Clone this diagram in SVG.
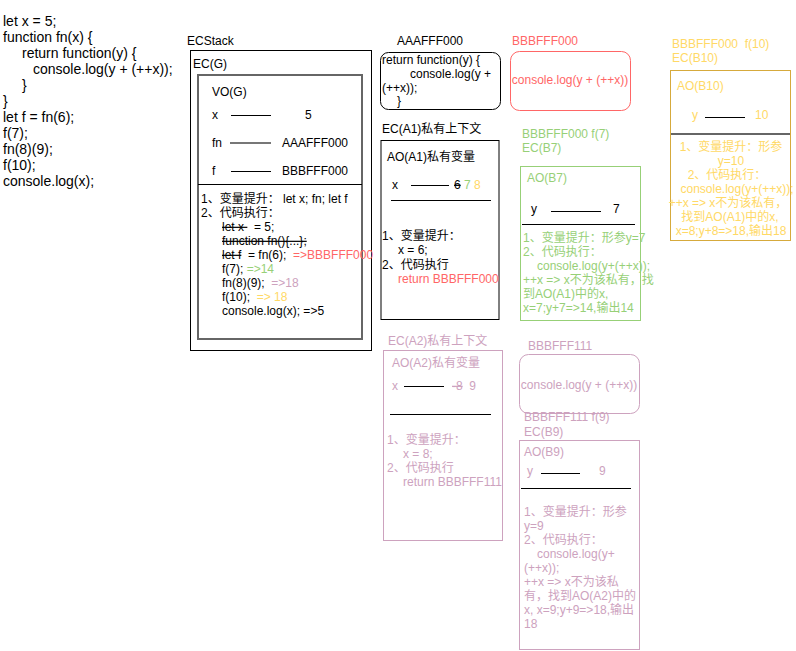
<svg xmlns="http://www.w3.org/2000/svg" width="796" height="651" viewBox="0 0 796 651" xml:space="preserve">
<style>
text{font-family:"Liberation Sans",Arial,"Noto Sans CJK SC",sans-serif;font-size:12px;fill:#000;white-space:pre}
.code{font-size:14px}
.red{fill:#FF6666}
.green{fill:#97D077}
.pink{fill:#CDA2BE}
.yel{fill:#FFD966}
.box{fill:none;stroke:#000;stroke-width:1}
.ln{stroke:#000;stroke-width:1}
.st{text-decoration:line-through}
.mid{text-anchor:middle}
</style>
<rect width="796" height="651" fill="#fff"/>
<g id="code">
<text class="code" x="3" y="26">let x = 5;</text>
<text class="code" x="3" y="42">function fn(x) {</text>
<text class="code" x="22" y="58">return function(y) {</text>
<text class="code" x="33" y="74">console.log(y + (++x));</text>
<text class="code" x="22" y="90">}</text>
<text class="code" x="3" y="106">}</text>
<text class="code" x="3" y="122">let f = fn(6);</text>
<text class="code" x="3" y="138">f(7);</text>
<text class="code" x="3" y="154">fn(8)(9);</text>
<text class="code" x="3" y="170">f(10);</text>
<text class="code" x="3" y="186">console.log(x);</text>
</g>
<g id="ecstack">
<text x="187" y="45">ECStack</text>
<rect class="box" x="190.5" y="50.5" width="181" height="300"/>
<text x="193" y="68">EC(G)</text>
<rect x="198" y="75" width="164" height="264" fill="none" stroke="#666" stroke-width="2"/>
<text x="212" y="96">VO(G)</text>
<text x="212" y="119">x</text>
<line class="ln" x1="231" y1="115.5" x2="271" y2="115.5"/>
<text x="305" y="119">5</text>
<text x="212" y="147">fn</text>
<line x1="230" y1="143" x2="271" y2="143" stroke="#777" stroke-width="2"/>
<text x="282" y="147">AAAFFF000</text>
<text x="212" y="175">f</text>
<line class="ln" x1="231" y1="171.5" x2="271" y2="171.5"/>
<text x="282" y="175">BBBFFF000</text>
<line class="ln" x1="198" y1="184.5" x2="362" y2="184.5"/>
<text x="201" y="203">1、变量提升： let x; fn; let f</text>
<text x="201" y="217">2、代码执行：</text>
<text x="222" y="231"><tspan class="st">let x </tspan>  = 5;</text>
<text x="222" y="245" class="st">function fn(){...};</text>
<text x="222" y="259"><tspan class="st">let f</tspan>  = fn(6);  <tspan class="red">=&gt;BBBFFF000</tspan></text>
<text x="222" y="273">f(7); <tspan class="green">=&gt;14</tspan></text>
<text x="222" y="287">fn(8)(9);  <tspan class="pink">=&gt;18</tspan></text>
<text x="222" y="301">f(10);  <tspan class="yel">=&gt; 18</tspan></text>
<text x="222" y="315">console.log(x); =&gt;5</text>
</g>
<g id="aaafff000">
<text x="397" y="45">AAAFFF000</text>
<rect class="box" x="380.5" y="52.5" width="120" height="57" rx="8"/>
<text x="382" y="64">return function(y) {</text>
<text x="410" y="78">console.log(y +</text>
<text x="382" y="92">(++x));</text>
<text x="397" y="105">}</text>
</g>
<g id="ecA1">
<text x="382" y="133">EC(A1)私有上下文</text>
<rect class="box" x="381" y="140.5" width="118" height="179"/>
<text x="387" y="161">AO(A1)私有变量</text>
<text x="392" y="189">x</text>
<line class="ln" x1="411" y1="185.5" x2="449" y2="185.5"/>
<text x="454" y="189"><tspan class="st">6</tspan> <tspan class="green">7</tspan> <tspan class="yel">8</tspan></text>
<line class="ln" x1="391" y1="200.5" x2="491" y2="200.5"/>
<text x="382" y="240">1、变量提升：</text>
<text x="398" y="254">x = 6;</text>
<text x="382" y="269">2、代码执行</text>
<text x="398" y="283" class="red">return BBBFFF000</text>
</g>
<g id="bbbfff000">
<text x="512" y="45" class="red">BBBFFF000</text>
<rect x="510.5" y="51.5" width="120" height="59" rx="9" fill="none" stroke="#FF6666"/>
<text x="570" y="84" class="red mid">console.log(y + (++x))</text>
</g>
<g id="ecB7">
<text x="522" y="138" class="green">BBBFFF000 f(7)</text>
<text x="522" y="152" class="green">EC(B7)</text>
<rect x="520.5" y="166.5" width="120" height="154" fill="none" stroke="#97D077"/>
<text x="527" y="182" class="green">AO(B7)</text>
<text x="531" y="213">y</text>
<line class="ln" x1="551" y1="211.5" x2="601" y2="211.5"/>
<text x="613" y="213">7</text>
<line class="ln" x1="522" y1="224.5" x2="635" y2="224.5"/>
<text x="523" y="242" class="green">1、变量提升：形参y=7</text>
<text x="523" y="256" class="green">2、代码执行：</text>
<text x="537" y="270" class="green">console.log(y+(++x));</text>
<text x="523" y="284" class="green">++x =&gt; x不为该私有，找</text>
<text x="523" y="298" class="green">到AO(A1)中的x,</text>
<text x="523" y="312" class="green">x=7;y+7=&gt;14,输出14</text>
</g>
<g id="ecB10">
<text x="672" y="48" class="yel">BBBFFF000  f(10)</text>
<text x="672" y="62" class="yel">EC(B10)</text>
<rect x="670.5" y="70.5" width="120" height="170" fill="none" stroke="#D6AA3C"/>
<text x="677" y="90" class="yel">AO(B10)</text>
<text x="692" y="119" class="yel">y</text>
<line class="ln" x1="705" y1="117.5" x2="745" y2="117.5"/>
<text x="755" y="119" class="yel">10</text>
<line x1="671" y1="134" x2="790" y2="134" stroke="#666" stroke-width="2"/>
<text x="731" y="151" class="yel mid">1、变量提升：形参</text>
<text x="731" y="165" class="yel mid">y=10</text>
<text x="727" y="179" class="yel mid">2、代码执行：</text>
<text x="737" y="193" class="yel mid">console.log(y+(++x));</text>
<text x="728" y="207" class="yel mid">++x =&gt; x不为该私有，</text>
<text x="730" y="221" class="yel mid">找到AO(A1)中的x,</text>
<text x="731" y="235" class="yel mid">x=8;y+8=&gt;18,输出18</text>
</g>
<g id="ecA2">
<text x="388" y="345" class="pink">EC(A2)私有上下文</text>
<rect x="383.5" y="350.5" width="119" height="190" fill="none" stroke="#CDA2BE"/>
<text x="392" y="367" class="pink">AO(A2)私有变量</text>
<text x="392" y="390" class="pink">x</text>
<line class="ln" x1="404" y1="386.5" x2="444" y2="386.5"/>
<text x="452" y="390" class="pink"><tspan class="st">-8</tspan>  9</text>
<line class="ln" x1="390" y1="414.5" x2="491" y2="414.5"/>
<text x="387" y="444" class="pink">1、变量提升：</text>
<text x="403" y="458" class="pink">x = 8;</text>
<text x="387" y="472" class="pink">2、代码执行</text>
<text x="403" y="486" class="pink">return BBBFFF111</text>
</g>
<g id="bbbfff111">
<text x="528" y="350" class="pink">BBBFFF111</text>
<rect x="519.5" y="354.5" width="120" height="59" rx="9" fill="none" stroke="#CDA2BE"/>
<text x="579" y="389" class="pink mid">console.log(y + (++x))</text>
</g>
<g id="ecB9">
<text x="524" y="421" class="pink">BBBFFF111 f(9)</text>
<text x="524" y="436" class="pink">EC(B9)</text>
<rect x="519.5" y="440.5" width="120" height="209" fill="none" stroke="#CDA2BE"/>
<text x="524" y="456" class="pink">AO(B9)</text>
<text x="527" y="475" class="pink">y</text>
<line class="ln" x1="541" y1="473.5" x2="580" y2="473.5"/>
<text x="599" y="475" class="pink">9</text>
<line class="ln" x1="521" y1="488.5" x2="631" y2="488.5"/>
<text x="524" y="516" class="pink">1、变量提升：形参</text>
<text x="524" y="530" class="pink">y=9</text>
<text x="524" y="544" class="pink">2、代码执行：</text>
<text x="537" y="558" class="pink">console.log(y+</text>
<text x="524" y="572" class="pink">(++x));</text>
<text x="524" y="586" class="pink">++x =&gt; x不为该私</text>
<text x="524" y="600" class="pink">有，找到AO(A2)中的</text>
<text x="524" y="614" class="pink">x, x=9;y+9=&gt;18,输出</text>
<text x="524" y="628" class="pink">18</text>
</g>
<g id="connectors"></g>
</svg>
